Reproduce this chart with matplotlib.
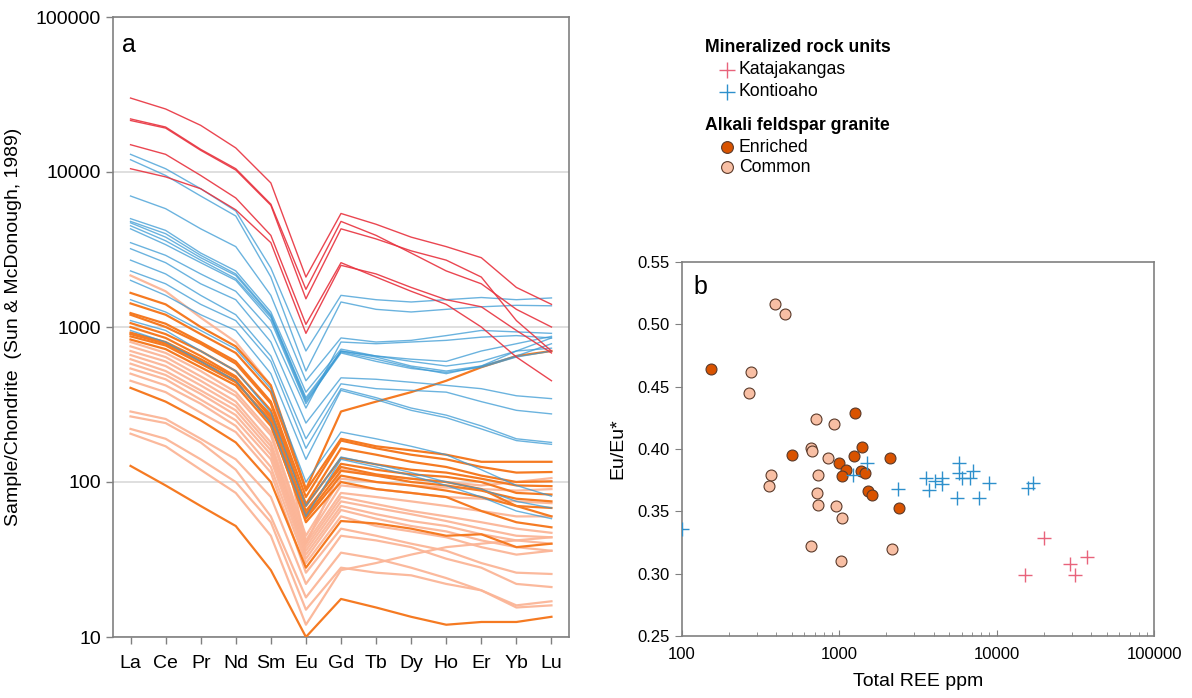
import matplotlib
matplotlib.use("Agg")
import matplotlib.pyplot as plt
from matplotlib.ticker import FixedLocator, NullLocator, LogLocator, NullFormatter

plt.rcParams['font.family'] = ['Liberation Sans', 'DejaVu Sans']

# ---------------- REE spider-diagram data (chondrite normalised) ----------------
ree = ["La", "Ce", "Pr", "Nd", "Sm", "Eu", "Gd", "Tb", "Dy", "Ho", "Er", "Yb", "Lu"]

katajakangas_ree = [
    [30000, 25500, 20000, 14300, 8500, 2100, 5400, 4600, 3800, 3300, 2800, 1800, 1400],
    [22000, 19500, 14000, 10500, 6200, 1750, 4800, 3900, 3000, 2300, 1900, 1300, 1000],
    [21500, 19200, 13800, 10300, 6100, 1520, 4300, 3700, 3100, 2700, 2100, 1100, 700],
    [15000, 13000, 9500, 6800, 3900, 1040, 2600, 2100, 1700, 1400, 1000, 640, 450],
    [10500, 9300, 7800, 5700, 3500, 910, 2500, 2200, 1800, 1500, 1350, 950, 680],
]

kontioaho_ree = [
    [13000, 10500, 7800, 5600, 2400, 700, 1600, 1500, 1450, 1500, 1550, 1500, 1540],
    [12000, 9500, 7000, 5200, 2100, 520, 1450, 1300, 1250, 1300, 1350, 1380, 1370],
    [7000, 5800, 4300, 3300, 1600, 450, 850, 800, 820, 880, 950, 930, 910],
    [5000, 4200, 3000, 2300, 1250, 380, 720, 650, 600, 560, 600, 700, 850],
    [4800, 4000, 2900, 2200, 1200, 350, 700, 640, 560, 520, 560, 650, 780],
    [4700, 3800, 2800, 2150, 1180, 340, 690, 620, 550, 500, 560, 700, 730],
    [4500, 3600, 2700, 2050, 1150, 330, 680, 600, 540, 510, 550, 640, 700],
    [4300, 3400, 2600, 2000, 1100, 320, 700, 650, 620, 600, 700, 780, 870],
    [3500, 2900, 2200, 1700, 950, 300, 800, 780, 800, 820, 860, 880, 850],
    [3200, 2600, 1900, 1500, 800, 240, 470, 460, 440, 420, 400, 360, 345],
    [2700, 2200, 1600, 1200, 650, 190, 430, 400, 390, 380, 330, 290, 275],
    [2300, 1900, 1400, 1100, 600, 165, 400, 350, 300, 270, 230, 190, 180],
    [2000, 1600, 1200, 950, 500, 140, 390, 340, 290, 260, 220, 185, 175],
    [1500, 1250, 950, 720, 400, 100, 210, 190, 170, 150, 120, 95, 81],
    [1100, 950, 700, 520, 280, 70, 145, 130, 115, 100, 90, 75, 68],
    [950, 800, 600, 450, 240, 60, 140, 125, 110, 95, 80, 65, 58],
]

enriched_ree = [
    [1660, 1400, 1000, 750, 420, 90, 285, 330, 380, 450, 550, 650, 700],
    [1420, 1200, 900, 680, 380, 88, 190, 170, 160, 150, 135, 135, 135],
    [1230, 1050, 800, 600, 330, 80, 185, 165, 150, 140, 125, 115, 116],
    [1200, 1000, 780, 580, 320, 72, 165, 150, 135, 125, 110, 100, 101],
    [1060, 900, 700, 520, 290, 70, 143, 130, 120, 115, 105, 95, 94],
    [920, 800, 620, 470, 270, 62, 131, 120, 112, 108, 100, 85, 83],
    [870, 760, 580, 440, 250, 60, 118, 110, 100, 95, 88, 78, 75],
    [830, 720, 550, 420, 230, 58, 110, 100, 95, 88, 80, 70, 68],
    [1000, 850, 650, 480, 260, 65, 125, 112, 105, 100, 90, 70, 60],
    [900, 780, 600, 450, 240, 55, 100, 90, 85, 80, 65, 55, 51],
    [405, 330, 250, 180, 100, 28, 56, 54, 50, 45, 46, 38, 40],
    [127, 95, 70, 52, 27, 10, 17.6, 15.5, 13.5, 12, 12.5, 12.5, 13.5],
]

common_ree = [
    [2150, 1700, 1150, 800, 420, 40, 120, 110, 105, 100, 95, 100, 106],
    [800, 680, 520, 380, 210, 45, 105, 100, 95, 92, 90, 88, 90],
    [750, 640, 480, 360, 200, 42, 95, 90, 85, 80, 78, 75, 73],
    [700, 600, 450, 330, 180, 40, 85, 80, 75, 70, 65, 60, 60],
    [660, 560, 420, 310, 170, 38, 80, 72, 65, 60, 55, 50, 47],
    [620, 520, 390, 290, 160, 36, 75, 68, 62, 56, 50, 45, 44],
    [580, 490, 370, 270, 150, 34, 70, 62, 56, 52, 46, 42, 40],
    [540, 460, 340, 250, 140, 32, 66, 58, 52, 48, 42, 38, 36],
    [500, 420, 320, 230, 125, 30, 60, 52, 48, 44, 38, 34, 36],
    [450, 380, 280, 210, 115, 26, 50, 45, 40, 36, 30, 26, 25.5],
    [285, 255, 190, 140, 80, 22, 45, 42, 38, 32, 28, 22, 21],
    [265, 240, 180, 120, 60, 18, 35, 32, 28, 24, 20, 16, 17],
    [220, 190, 140, 100, 55, 15, 28, 26, 25, 22, 20, 15.5, 16],
    [205, 170, 120, 85, 45, 12, 27, 30, 34, 38, 40, 42, 44],
]

# ---------------- Eu anomaly vs. total REE ----------------
katajakangas_total = [20000, 15140, 29400, 31600, 37700]
katajakangas_eu = [0.329, 0.299, 0.308, 0.299, 0.313]

kontioaho_total = [100, 1500, 1222, 2362, 3548, 3706, 4049, 4483, 4483, 5584, 5754,
                   5754, 6012, 6749, 7052, 7697, 8908, 15740, 16950]
kontioaho_eu = [0.336, 0.389, 0.379, 0.368, 0.377, 0.367, 0.374, 0.377, 0.372, 0.361,
                0.389, 0.381, 0.377, 0.377, 0.382, 0.361, 0.373, 0.369, 0.373]

enriched_total = [154, 1259, 1395, 502, 1241, 2099, 997, 1105, 1375, 1458, 1042, 1523,
                  1615, 2394]
enriched_eu = [0.464, 0.429, 0.402, 0.395, 0.394, 0.393, 0.389, 0.383, 0.382, 0.381,
               0.378, 0.366, 0.363, 0.353]

common_total = [392, 453, 276, 268, 713, 927, 662, 672, 849, 370, 734, 359, 723, 734,
                955, 1042, 662, 1026, 2163]
common_eu = [0.516, 0.508, 0.4615, 0.445, 0.424, 0.420, 0.401, 0.398, 0.393, 0.379,
             0.379, 0.370, 0.365, 0.355, 0.354, 0.345, 0.322, 0.310, 0.320]

# colours
RED_LINE, RED_MARK = "#E8323E", "#E8637B"
BLUE_LINE, BLUE_MARK = "#3A9AD4", "#2E90CC"
ENR_LINE, ENR_MARK = "#F57A22", "#D95300"
COM_LINE, COM_MARK = "#FBB597", "#F8BFA4"
EDGE = "#5A3A2A"
GRID = "#D9D9D9"
AXIS = "#808080"

W, H = 1192, 698
fig = plt.figure(figsize=(W / 100, H / 100), dpi=100)

# ================= panel a =================
axa = fig.add_axes([113 / W, 1 - 637 / H, (569 - 113) / W, (637 - 17) / H])
xs = list(range(len(ree)))
for row in common_ree:
    axa.plot(xs, row, color=COM_LINE, lw=1.6, alpha=0.95, zorder=2)
for row in enriched_ree:
    axa.plot(xs, row, color=ENR_LINE, lw=1.6, zorder=3)
for row in kontioaho_ree:
    axa.plot(xs, row, color=BLUE_LINE, lw=1.0, alpha=0.75, zorder=4)
for row in katajakangas_ree:
    axa.plot(xs, row, color=RED_LINE, lw=1.0, alpha=0.9, zorder=5)

axa.set_yscale("log")
axa.set_ylim(10, 100000)
axa.set_xlim(-0.5, len(ree) - 0.5)
axa.yaxis.set_major_locator(FixedLocator([10, 100, 1000, 10000, 100000]))
axa.yaxis.set_minor_locator(NullLocator())
axa.set_yticklabels(["10", "100", "1000", "10000", "100000"])
axa.set_xticks(xs)
axa.set_xticklabels(ree)
axa.tick_params(axis="both", labelsize=14, color=AXIS, length=5, width=1)
axa.tick_params(axis="x", pad=8)
for sp in axa.spines.values():
    sp.set_color(AXIS)
    sp.set_linewidth(1.2)
axa.grid(axis="y", which="major", color=GRID, lw=1.2, zorder=0)
axa.set_axisbelow(True)
axa.set_ylabel("Sample/Chondrite  (Sun & McDonough, 1989)", fontsize=14, labelpad=10)
axa.text(0.02, 0.975, "a", transform=axa.transAxes, fontsize=18, va="top", ha="left")

# ================= panel b =================
axb = fig.add_axes([681.5 / W, 1 - 636 / H, (1154 - 681.5) / W, (636 - 262) / H])
axb.scatter(common_total, common_eu, s=62, color=COM_MARK, edgecolor=EDGE, lw=0.8, zorder=3)
axb.scatter(enriched_total, enriched_eu, s=62, color=ENR_MARK, edgecolor=EDGE, lw=0.8, zorder=4)
axb.scatter(kontioaho_total, kontioaho_eu, s=110, marker="+", color=BLUE_MARK, lw=1.0, zorder=5)
axb.scatter(katajakangas_total, katajakangas_eu, s=110, marker="+", color=RED_MARK, lw=1.0, zorder=5)

axb.set_xscale("log")
axb.set_xlim(100, 100000)
axb.set_ylim(0.25, 0.55)
axb.xaxis.set_major_locator(FixedLocator([100, 1000, 10000, 100000]))
axb.set_xticklabels(["100", "1000", "10000", "100000"])
axb.xaxis.set_minor_locator(LogLocator(base=10, subs=range(2, 10)))
axb.xaxis.set_minor_formatter(NullFormatter())
axb.set_yticks([0.25, 0.30, 0.35, 0.40, 0.45, 0.50, 0.55])
axb.set_yticklabels(["0.25", "0.30", "0.35", "0.40", "0.45", "0.50", "0.55"])
axb.tick_params(axis="x", which="both", direction="in", color=AXIS, labelsize=12, pad=8)
axb.tick_params(axis="x", which="major", length=4)
axb.tick_params(axis="x", which="minor", length=3)
axb.tick_params(axis="y", direction="out", color=AXIS, length=5, labelsize=12)
for sp in axb.spines.values():
    sp.set_color(AXIS)
    sp.set_linewidth(1.2)
axb.set_xlabel("Total REE ppm", fontsize=14, labelpad=8)
axb.set_ylabel("Eu/Eu*", fontsize=14, labelpad=8)
axb.text(0.025, 0.965, "b", transform=axb.transAxes, fontsize=18, va="top", ha="left")

# ================= legend =================
leg = fig.add_axes([0, 0, 1, 1], facecolor="none")
leg.set_xlim(0, W)
leg.set_ylim(H, 0)
leg.axis("off")
FS = 12.7
leg.text(705, 48, "Mineralized rock units", fontsize=FS, fontweight="bold", va="center")
leg.plot([727], [70], marker="+", ms=11, mew=1.0, color=RED_MARK, ls="none")
leg.text(739, 70, "Katajakangas", fontsize=FS, va="center")
leg.plot([727], [92], marker="+", ms=11, mew=1.0, color=BLUE_MARK, ls="none")
leg.text(739, 92, "Kontioaho", fontsize=FS, va="center")
leg.text(705, 126, "Alkali feldspar granite", fontsize=FS, fontweight="bold", va="center")
leg.plot([727], [147], marker="o", ms=8.5, mew=0.8, color=ENR_MARK, mec=EDGE, ls="none")
leg.text(739, 147, "Enriched", fontsize=FS, va="center")
leg.plot([727], [167], marker="o", ms=8.5, mew=0.8, color=COM_MARK, mec=EDGE, ls="none")
leg.text(739, 167, "Common", fontsize=FS, va="center")

fig.savefig("out.png", dpi=100)
